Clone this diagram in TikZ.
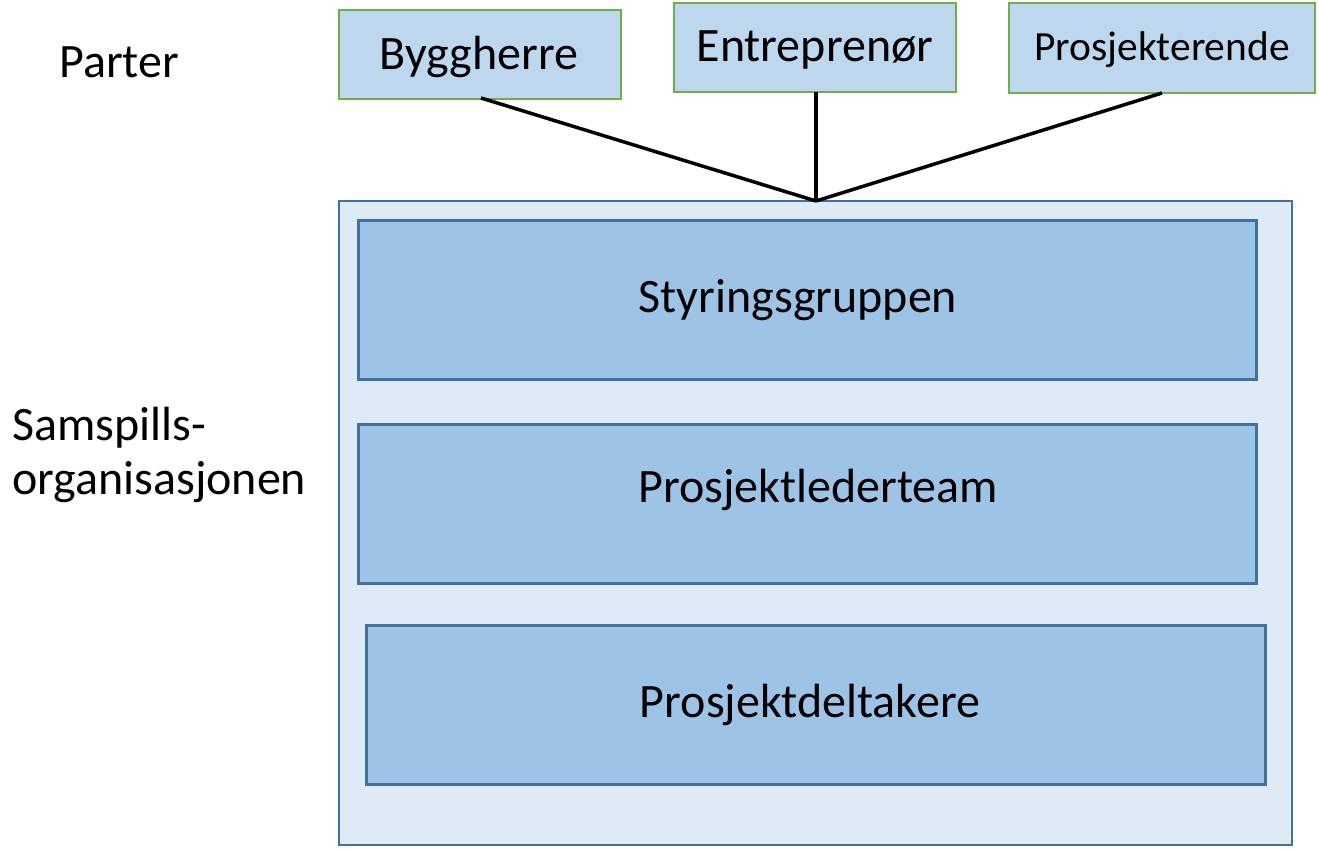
\documentclass[tikz,border=0pt]{standalone}
\usepackage{fontspec}
\setmainfont{Carlito}
\definecolor{topfill}{HTML}{BDD7EE}
\definecolor{topdraw}{HTML}{70AD47}
\definecolor{outerfill}{HTML}{DEEBF7}
\definecolor{boxdraw}{HTML}{41719C}
\definecolor{innerfill}{HTML}{9DC3E6}
\begin{document}
\begin{tikzpicture}[x=1pt,y=-1pt,
  party/.style={draw=topdraw,fill=topfill,line width=2.2pt},
  outerbox/.style={draw=boxdraw,fill=outerfill,line width=2.4pt},
  layerbox/.style={draw=boxdraw,fill=innerfill,line width=3pt},
  lbl/.style={font=\fontsize{48}{54}\selectfont,inner sep=0pt},
  link/.style={line width=3.5pt,black}]
\useasboundingbox (0,0) rectangle (1319,851);
% outer organisation
\draw[outerbox] (339,201) rectangle (1292,845);
\draw[layerbox] (358,220) rectangle (1256,379);
\node[lbl] (styr) at (798,300) {Styringsgruppen};
\draw[layerbox] (358,424) rectangle (1256,583);
\node[lbl] (pl) at (818,490) {Prosjektlederteam};
\draw[layerbox] (366,625) rectangle (1265,784);
\node[lbl] (pd) at (810,705) {Prosjektdeltakere};
% parties
\draw[party] (339,10) rectangle (621,99);
\node[lbl] (bh) at (479,57) {Byggherre};
\draw[party] (674,3) rectangle (956,92);
\node[lbl] (en) at (815,50) {Entreprenør};
\draw[party] (1009,3) rectangle (1315,93);
\node[lbl,font=\fontsize{41.5}{50}\selectfont] (pr) at (1162,50) {Prosjekterende};
% connectors
\coordinate (join) at (816,201);
\coordinate (bhb) at (481,98);
\coordinate (enb) at (816,92);
\coordinate (prb) at (1162,93);
\draw[link] (bhb) -- (join);
\draw[link] (enb) -- (join);
\draw[link] (prb) -- (join);
% side labels
\node[lbl,anchor=west] (parter) at (59,62) {Parter};
\node[lbl,anchor=west,align=left] (samspill) at (12,455) {Samspills-\\organisasjonen};
\end{tikzpicture}
\end{document}
